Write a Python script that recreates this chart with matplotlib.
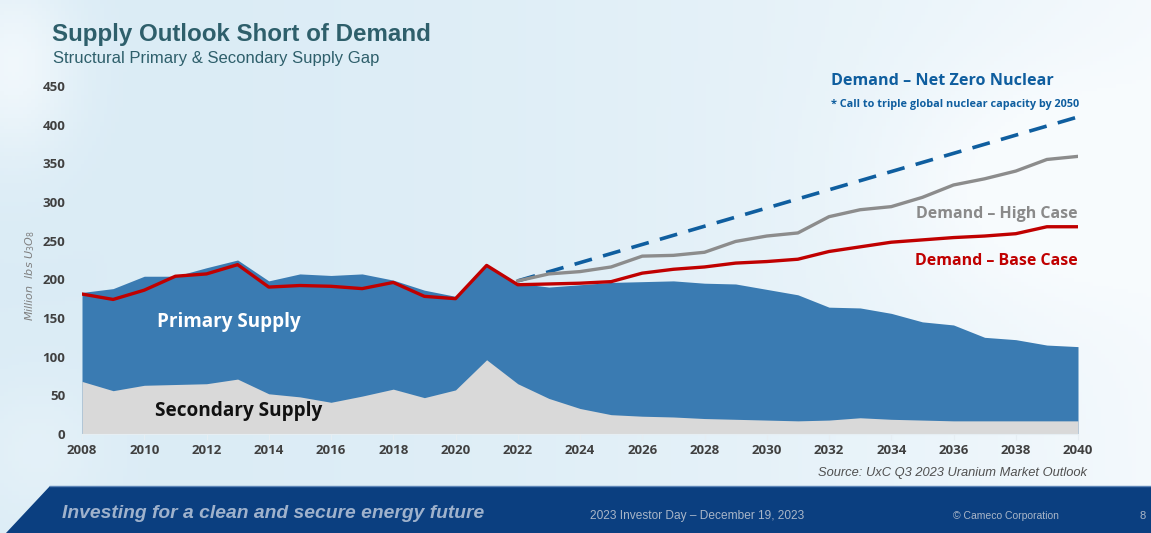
import numpy as np
import matplotlib
matplotlib.use('Agg')
import matplotlib.pyplot as plt
from matplotlib.patches import Polygon

# data (million lbs U3O8)
years = list(range(2008, 2041))
total_supply = [183, 188, 204, 204, 215, 225, 198, 207, 205, 207, 199, 186, 178, 219, 195, 190,
                193, 196, 197, 198, 195, 194, 187, 180, 164, 163, 156, 145, 141, 125, 122, 115, 113]
secondary = [68, 56, 63, 64, 65, 71, 52, 48, 41, 49, 58, 47, 57, 96, 65, 46,
             33, 25, 23, 22, 20, 19, 18, 17, 18, 21, 19, 18, 17, 17, 17, 17, 17]
base_years = list(range(2008, 2041))
base_case = [181, 174, 186, 204, 207, 219, 190, 192, 191, 188, 196, 178, 175, 218, 193, 194,
             195, 197, 208, 213, 216, 221, 223, 226, 236, 242, 248, 251, 254, 256, 259, 268, 268]
high_years = list(range(2022, 2041))
high_case = [198, 207, 210, 216, 230, 231, 235, 249, 256, 260, 281, 290, 294, 306, 322, 330, 340, 355, 359]
nz_years = [2022, 2040]
nz_values = [198, 410]
xticks = list(range(2008, 2041, 2))
yticks = list(range(0, 451, 50))

W, H = 1151, 533
fig = plt.figure(figsize=(W / 100, H / 100), dpi=100)

# sky-like background
bg = fig.add_axes([0, 0, 1, 1], zorder=-10)
gx = np.linspace(0, 1, 300)
gy = np.linspace(0, 1, 140)
X, Y = np.meshgrid(gx, gy)
c0 = np.array([0.83, 0.91, 0.955])
c1 = np.array([0.97, 0.985, 0.995])
t = 0.2 + 0.7 * X ** 2
t += 0.6 * np.exp(-((X - 0.01) ** 2 / 0.003 + (Y - 0.12) ** 2 / 0.03))
t += 0.35 * np.exp(-((X - 0.9) ** 2 / 0.02 + (Y - 0.35) ** 2 / 0.05))
t += 0.25 * np.exp(-((X - 0.03) ** 2 / 0.004 + (Y - 0.85) ** 2 / 0.02))
t = np.clip(t, 0, 1)
img = c0[None, None, :] * (1 - t[..., None]) + c1[None, None, :] * t[..., None]
bg.imshow(img, extent=[0, 1, 0, 1], aspect='auto', origin='upper')
bg.set_xlim(0, 1); bg.set_ylim(0, 1)
bg.axis('off')

# bottom banner
ban_top = 1 - 486 / H
bg.add_patch(Polygon([[50 / W, ban_top], [1, ban_top], [1, 0], [6 / W, 0]],
                     closed=True, facecolor='#0b3f80', edgecolor='none', zorder=2))
bg.plot([50 / W, 1], [ban_top, ban_top], color='#5d86b8', lw=1, zorder=3)
bg.text(62 / W, 1 - 514 / H, 'Investing for a clean and secure energy future', fontsize=13.9,
        style='italic', fontweight='bold', color='#9fb2cc', family='Liberation Sans', va='center')
bg.text(590 / W, 1 - 516 / H, '2023 Investor Day \u2013 December 19, 2023', fontsize=8.6,
        color='#a9b6c8', family='Liberation Sans', va='center')
bg.text(953 / W, 1 - 516 / H, '\u00a9 Cameco Corporation', fontsize=7.5,
        color='#a9b6c8', family='Liberation Sans', va='center')
bg.text(1140 / W, 1 - 516 / H, '8', fontsize=8, color='#a9b6c8', family='Liberation Sans', va='center')

# titles
fig.text(52 / W, 1 - 35 / H, 'Supply Outlook Short of Demand', fontsize=17.4, fontweight='bold',
         color='#2e5f6b', family='Liberation Sans', va='center')
fig.text(53 / W, 1 - 58 / H, 'Structural Primary & Secondary Supply Gap', fontsize=12,
         color='#2e5f6b', family='Liberation Sans', va='center')

ax = fig.add_axes([82 / W, 1 - 434 / H, (1078 - 82) / W, (434 - 86) / H])
ax.patch.set_alpha(0)
ax.fill_between(years, 0, total_supply, color='#3a7bb2', lw=0, zorder=1)
ax.fill_between(years, 0, secondary, color='#d9d9d9', lw=0, zorder=2)
ax.plot(nz_years, nz_values, color='#0f5e9f', lw=2.6, dashes=(5, 3.2), zorder=3)
ax.plot(high_years, high_case, color='#8c8c8c', lw=2.4, zorder=4)
ax.plot(base_years, base_case, color='#c00000', lw=2.4, zorder=5)

ax.set_xlim(2008, 2040)
ax.set_ylim(0, 450)
ax.set_xticks(xticks)
ax.set_yticks(yticks)
for s in ['top', 'right', 'left']:
    ax.spines[s].set_visible(False)
ax.spines['bottom'].set_color('#e6eef3')
ax.tick_params(axis='x', colors='#e6eef3', length=4, width=0.8, pad=3)
ax.tick_params(axis='y', length=0, pad=12)
for lab in ax.get_xticklabels() + ax.get_yticklabels():
    lab.set_color('#404040')
    lab.set_fontweight('bold')
    lab.set_family('Open Sans')
    lab.set_fontsize(9.5)
ax.set_ylabel('Million  lbs $U_3O_8$', fontsize=8, style='italic', color='#7f7f7f')
ax.yaxis.set_label_coords(-0.045, 0.455)

txt = dict(family='Open Sans', fontweight='bold')
ax.text(2012.72, 145, 'Primary Supply', color='white', fontsize=13.6, ha='center', va='center', **txt)
ax.text(2013.03, 30, 'Secondary Supply', color='#111111', fontsize=13.7, ha='center', va='center', **txt)
ax.text(2032.05, 456, 'Demand \u2013 Net Zero Nuclear', color='#0f5e9f', fontsize=11.6, va='center',
        clip_on=False, **txt)
ax.text(2032.05, 426, '* Call to triple global nuclear capacity by 2050', color='#0f5e9f', fontsize=7.8,
        va='center', **txt)
ax.text(2040, 284, 'Demand \u2013 High Case', color='#8a8a8a', fontsize=11.5, ha='right', va='center', **txt)
ax.text(2040, 224, 'Demand \u2013 Base Case', color='#c00000', fontsize=11.5, ha='right', va='center', **txt)
fig.text(1087 / W, 1 - 473 / H, 'Source: UxC Q3 2023 Uranium Market Outlook', fontsize=9.3,
         style='italic', color='#505050', family='Liberation Sans', ha='right', va='center')

fig.savefig('out.png', dpi=100)
